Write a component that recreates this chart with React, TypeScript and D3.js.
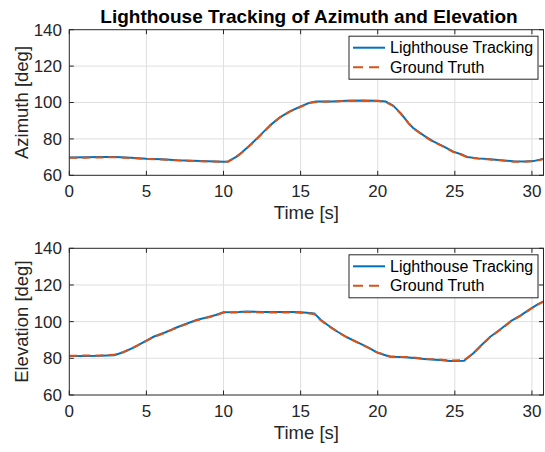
import React from "react";
import * as d3 from "d3";

const azTime = [0, 1, 2, 3, 4, 5, 6, 7, 8, 9, 10, 10.3, 10.8, 11.2, 11.8, 12.4, 13.0, 13.6, 14.3, 15.0, 15.6, 16.0, 17.0, 18.0, 19.0, 20.0, 20.5, 21.0, 21.5, 22.0, 22.3, 23.0, 23.6, 24.2, 24.9, 25.4, 25.8, 26.5, 27.1, 28.0, 28.8, 29.5, 30.1, 30.5, 30.75];
const azTrack = [69.8, 69.9, 70.0, 70.1, 69.6, 69.1, 68.8, 68.3, 68.0, 67.7, 67.5, 67.6, 70.0, 72.7, 77.2, 82.2, 87.3, 91.5, 95.1, 97.8, 99.9, 100.5, 100.6, 101.0, 101.1, 101.0, 100.6, 98.3, 94.0, 88.7, 86.0, 81.8, 78.6, 76.2, 73.0, 71.6, 70.1, 69.3, 68.9, 68.3, 67.7, 67.6, 67.8, 68.6, 69.1];
const azTruth = [69.6, 69.7, 69.8, 69.9, 69.5, 69.0, 68.7, 68.2, 67.9, 67.6, 67.4, 67.5, 69.8, 72.5, 77.0, 82.0, 87.1, 91.4, 95.0, 97.6, 99.8, 100.3, 100.5, 100.9, 100.9, 100.8, 100.4, 98.1, 93.8, 88.5, 85.8, 81.6, 78.4, 76.0, 72.8, 71.4, 69.9, 69.2, 68.8, 68.2, 67.5, 67.5, 67.7, 68.4, 68.9];

const elTime = [0, 1, 2, 2.9, 3.5, 4.2, 5.0, 5.5, 6.2, 6.75, 7.5, 8.3, 8.9, 9.5, 10.0, 11.0, 11.5, 12.5, 13.5, 14.5, 15.0, 15.6, 15.9, 16.3, 16.8, 17.4, 18.0, 18.7, 19.4, 20.0, 20.8, 21.5, 22.0, 23.2, 24.0, 24.7, 25.6, 26.2, 26.7, 27.3, 28.0, 28.6, 29.3, 29.9, 30.4, 30.75];
const elTrack = [81.2, 81.3, 81.4, 81.7, 83.3, 86.0, 89.7, 91.9, 94.1, 96.1, 98.6, 101.0, 102.3, 103.6, 105.1, 105.2, 105.6, 105.3, 105.2, 105.2, 105.1, 104.7, 104.4, 101.0, 97.9, 94.5, 91.5, 88.7, 85.8, 83.0, 80.9, 80.7, 80.5, 79.5, 79.1, 78.5, 78.7, 82.8, 87.0, 91.8, 96.1, 100.1, 103.6, 107.0, 109.6, 111.1];
const elTruth = [81.4, 81.5, 81.6, 81.9, 83.4, 86.1, 89.5, 91.7, 93.9, 95.9, 98.4, 100.8, 102.1, 103.4, 105.0, 105.0, 105.3, 105.0, 105.0, 105.0, 104.9, 104.4, 104.1, 100.8, 97.7, 94.4, 91.4, 88.6, 85.7, 83.1, 81.1, 80.8, 80.7, 79.7, 79.3, 78.8, 79.0, 82.7, 86.9, 91.7, 95.9, 99.9, 103.4, 106.8, 109.4, 110.9];

const xTicks = [0, 5, 10, 15, 20, 25, 30];
const yTicks = [60, 80, 100, 120, 140];
const seriesNames = ["Lighthouse Tracking", "Ground Truth"];

const BLUE = "#0072BD";
const ORANGE = "#D95319";
const AX = "#262626";
const GRID = "#dfdfdf";
const FONT = "'Liberation Sans', Arial, Helvetica, sans-serif";

type PanelProps = {
  top: number;
  bottom: number;
  time: number[];
  track: number[];
  truth: number[];
  ylabel: string;
  id: string;
};

const LEFT = 69.3;
const RIGHT = 543.5;

function Panel({ top, bottom, time, track, truth, ylabel, id }: PanelProps) {
  const x = d3.scaleLinear().domain([0, 30.75]).range([LEFT, RIGHT]);
  const y = d3.scaleLinear().domain([60, 140]).range([bottom, top]);
  const line = d3
    .line<number>()
    .x((_, i) => x(time[i]))
    .y((d) => y(d));
  const lg = { x0: 349, x1: 538, y0: top + 6.5, y1: top + 49.5 };
  const r1 = lg.y0 + 11.5;
  const r2 = lg.y0 + 31;
  return (
    <g>
      <defs>
        <clipPath id={id}>
          <rect x={LEFT} y={top} width={RIGHT - LEFT} height={bottom - top} />
        </clipPath>
      </defs>
      <rect x={LEFT} y={top} width={RIGHT - LEFT} height={bottom - top} fill="#fff" />
      {xTicks.slice(1).map((t) => (
        <line key={"gx" + t} x1={x(t)} x2={x(t)} y1={top} y2={bottom} stroke={GRID} strokeWidth={1} />
      ))}
      {yTicks.slice(1, -1).map((t) => (
        <line key={"gy" + t} x1={LEFT} x2={RIGHT} y1={y(t)} y2={y(t)} stroke={GRID} strokeWidth={1} />
      ))}
      <g clipPath={`url(#${id})`}>
        <path d={line(track) || ""} fill="none" stroke={BLUE} strokeWidth={2} strokeLinejoin="round" />
        <path d={line(truth) || ""} fill="none" stroke={ORANGE} strokeWidth={2} strokeDasharray="8,5" />
      </g>
      <rect x={LEFT} y={top} width={RIGHT - LEFT} height={bottom - top} fill="none" stroke={AX} strokeWidth={1} />
      {xTicks.map((t) => (
        <g key={"tx" + t}>
          <line x1={x(t)} x2={x(t)} y1={bottom} y2={bottom - 4.5} stroke={AX} />
          <line x1={x(t)} x2={x(t)} y1={top} y2={top + 4.5} stroke={AX} />
          <text x={x(t)} y={bottom + 21.5} textAnchor="middle" fontSize={17} fill={AX} fontFamily={FONT}>
            {t}
          </text>
        </g>
      ))}
      {yTicks.map((t) => (
        <g key={"ty" + t}>
          <line x1={LEFT} x2={LEFT + 4.5} y1={y(t)} y2={y(t)} stroke={AX} />
          <line x1={RIGHT} x2={RIGHT - 4.5} y1={y(t)} y2={y(t)} stroke={AX} />
          <text x={62} y={y(t)} dy="0.35em" textAnchor="end" fontSize={17} fill={AX} fontFamily={FONT}>
            {t}
          </text>
        </g>
      ))}
      <text x={(LEFT + RIGHT) / 2} y={bottom + 44} textAnchor="middle" fontSize={18.5} fill={AX} fontFamily={FONT}>
        Time [s]
      </text>
      <text
        transform={`translate(28,${(top + bottom) / 2}) rotate(-90)`}
        textAnchor="middle"
        fontSize={18.5}
        fill={AX}
        fontFamily={FONT}
      >
        {ylabel}
      </text>
      <rect x={lg.x0} y={lg.y0} width={lg.x1 - lg.x0} height={lg.y1 - lg.y0} fill="#fff" stroke={AX} strokeWidth={1} />
      <line x1={353} x2={385} y1={r1} y2={r1} stroke={BLUE} strokeWidth={2} />
      <line x1={353} x2={385} y1={r2} y2={r2} stroke={ORANGE} strokeWidth={2} strokeDasharray="10,6" />
      <text x={390} y={r1} dy="0.35em" fontSize={16} fill="#000" fontFamily={FONT}>
        {seriesNames[0]}
      </text>
      <text x={390} y={r2} dy="0.35em" fontSize={16} fill="#000" fontFamily={FONT}>
        {seriesNames[1]}
      </text>
    </g>
  );
}

export default function App() {
  return (
    <svg
      width={545}
      height={452}
      style={{ position: "absolute", left: 0, top: 0, background: "#fff" }}
    >
      <rect width={545} height={452} fill="#fff" />
      <text x={309} y={22.5} textAnchor="middle" fontSize={19} fontWeight="bold" fill="#000" fontFamily={FONT}>
        Lighthouse Tracking of Azimuth and Elevation
      </text>
      <Panel top={29.7} bottom={175.3} time={azTime} track={azTrack} truth={azTruth} ylabel="Azimuth [deg]" id="c1" />
      <Panel top={248.3} bottom={395} time={elTime} track={elTrack} truth={elTruth} ylabel="Elevation [deg]" id="c2" />
    </svg>
  );
}
